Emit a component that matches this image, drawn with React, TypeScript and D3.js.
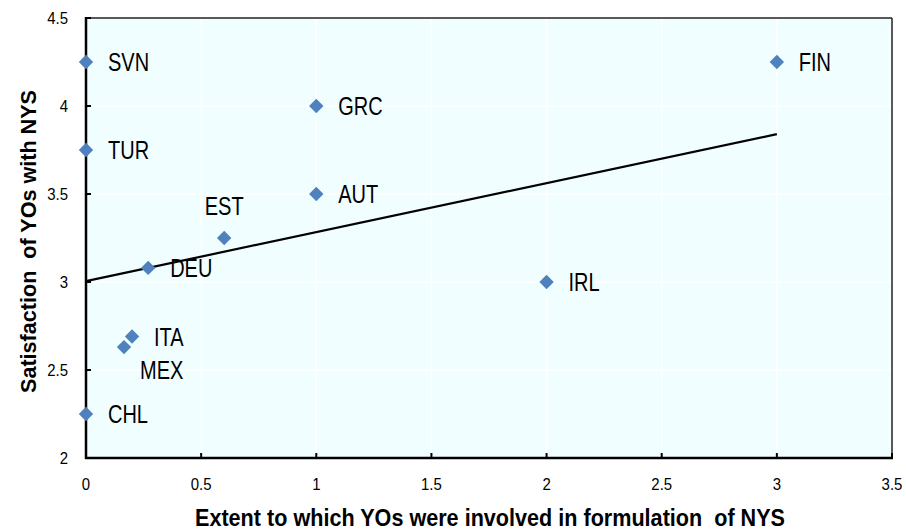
import React from 'react';
import * as d3 from 'd3';

// country codes and their values (x: involvement, y: satisfaction)
const countries = ['SVN', 'TUR', 'GRC', 'AUT', 'FIN', 'EST', 'DEU', 'IRL', 'ITA', 'MEX', 'CHL'];
const involvement = [0, 0, 1, 1, 3, 0.6, 0.27, 2, 0.2, 0.165, 0];
const satisfaction = [4.25, 3.75, 4.0, 3.5, 4.25, 3.25, 3.08, 3.0, 2.69, 2.63, 2.25];

// linear trend line end points
const trendX = [0, 3];
const trendY = [3.005, 3.84];

const xTicks = [0, 0.5, 1, 1.5, 2, 2.5, 3, 3.5];
const yTicks = [2, 2.5, 3, 3.5, 4, 4.5];

const W = 906;
const H = 531;
const margin = { left: 86, right: 14, top: 18, bottom: 73 };

const App = () => {
  const x = d3.scaleLinear().domain([0, 3.5]).range([margin.left, W - margin.right]);
  const y = d3.scaleLinear().domain([2, 4.5]).range([H - margin.bottom, margin.top]);
  const [x0, x1] = x.range();
  const [y0, y1] = y.range();

  const points = countries.map((c, i) => ({ name: c, x: involvement[i], y: satisfaction[i] }));
  const diamond = d3.symbol().type(d3.symbolDiamond2).size(132)();
  const trend = d3.line<number>().x((d, i) => x(d)).y((d, i) => y(trendY[i]))(trendX);

  // label placement relative to the marker
  const labelPos = (name: string) => {
    if (name === 'EST') return { dx: 0, dy: -23, anchor: 'middle' };
    if (name === 'MEX') return { dx: 16, dy: 32, anchor: 'start' };
    return { dx: 22, dy: 9, anchor: 'start' };
  };

  const font = 'Liberation Sans, Arial, sans-serif';

  return (
    <svg width={W} height={H} style={{ position: 'absolute', left: 0, top: 0, display: 'block' }}>
      <rect x={0} y={0} width={W} height={H} fill="#fff" />
      <rect x={x0} y={y1} width={x1 - x0} height={y0 - y1} fill="#F0FEFF" />

      {/* grid */}
      <g stroke="#fff" strokeWidth={1.5}>
        {xTicks.slice(1, -1).map(t => (
          <line key={'gx' + t} x1={x(t)} x2={x(t)} y1={y1} y2={y0} />
        ))}
        {yTicks.slice(1, -1).map(t => (
          <line key={'gy' + t} x1={x0} x2={x1} y1={y(t)} y2={y(t)} />
        ))}
      </g>

      {/* frame */}
      <line x1={x0} x2={x1} y1={y1} y2={y1} stroke="#222" strokeWidth={1.5} />
      <line x1={x1} x2={x1} y1={y1} y2={y0} stroke="#222" strokeWidth={1.5} />
      <line x1={x0} x2={x0} y1={y1 - 1} y2={y0 + 1} stroke="#000" strokeWidth={2.5} />
      <line x1={x0 - 1} x2={x1 + 1} y1={y0} y2={y0} stroke="#000" strokeWidth={2.5} />

      {/* ticks */}
      <g stroke="#000" strokeWidth={2}>
        {xTicks.map(t => (
          <line key={'tx' + t} x1={x(t)} x2={x(t)} y1={y0} y2={y0 - 5} />
        ))}
        {yTicks.map(t => (
          <line key={'ty' + t} x1={x0} x2={x0 + 5} y1={y(t)} y2={y(t)} />
        ))}
      </g>

      {/* tick labels */}
      <g fontFamily={font} fontSize={17} fill="#000">
        {xTicks.map(t => (
          <text key={'lx' + t} transform={`translate(${x(t)},${y0 + 32}) scale(0.88,1)`} textAnchor="middle">
            {String(t)}
          </text>
        ))}
        {yTicks.map(t => (
          <text key={'ly' + t} transform={`translate(${x0 - 18},${y(t) + 6}) scale(0.88,1)`} textAnchor="end">
            {String(t)}
          </text>
        ))}
      </g>

      {/* trend line */}
      <path d={trend || ''} fill="none" stroke="#000" strokeWidth={2.2} />

      {/* markers */}
      {points.map(p => (
        <path key={p.name} d={diamond || ''} transform={`translate(${x(p.x)},${y(p.y)})`} fill="#4F81BD" />
      ))}

      {/* point labels */}
      <g fontFamily={font} fontSize={25} fill="#000">
        {points.map(p => {
          const l = labelPos(p.name);
          return (
            <text key={'t' + p.name} transform={`translate(${x(p.x) + l.dx},${y(p.y) + l.dy}) scale(0.8,1)`} textAnchor={l.anchor}>
              {p.name}
            </text>
          );
        })}
      </g>

      {/* axis titles */}
      <text
        x={(195 + 785) / 2}
        y={526}
        textAnchor="middle"
        fontFamily={font}
        fontWeight="bold"
        fontSize={24}
        textLength={590}
        lengthAdjust="spacingAndGlyphs"
        style={{ whiteSpace: 'pre' }}
      >
        {'Extent to which YOs were involved in formulation  of NYS'}
      </text>
      <text
        transform={`translate(36,${(90 + 393) / 2}) rotate(-90)`}
        textAnchor="middle"
        fontFamily={font}
        fontWeight="bold"
        fontSize={22}
        textLength={303}
        lengthAdjust="spacingAndGlyphs"
        style={{ whiteSpace: 'pre' }}
      >
        {'Satisfaction  of YOs with NYS'}
      </text>
    </svg>
  );
};

export default App;
